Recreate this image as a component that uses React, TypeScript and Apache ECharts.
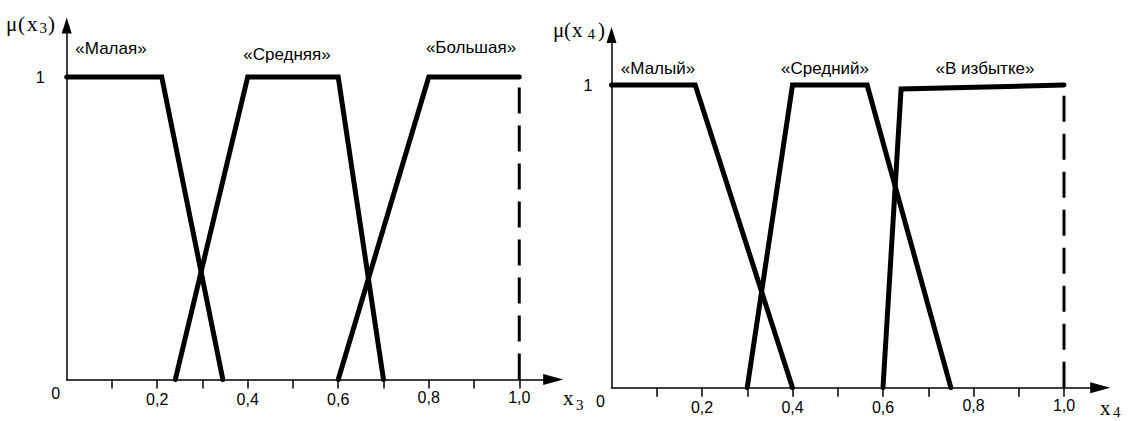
import React, { useEffect, useRef } from "react";
import * as echarts from "echarts";

// ---------- data ----------
// Left chart: membership functions of x3
const X3_SMALL: number[][] = [[0, 1], [0.21, 1], [0.345, 0]];
const X3_MEDIUM: number[][] = [[0.24, 0], [0.4, 1], [0.6, 1], [0.7, 0]];
const X3_LARGE: number[][] = [[0.6, 0], [0.8, 1], [1.0, 1]];
const X3_BOUND: number[][] = [[1.0, 0], [1.0, 1]];

// Right chart: membership functions of x4
const X4_SMALL: number[][] = [[0, 1], [0.185, 1], [0.4, 0]];
const X4_MEDIUM: number[][] = [[0.3, 0], [0.4, 1], [0.565, 1], [0.75, 0]];
const X4_EXCESS: number[][] = [[0.6, 0], [0.64, 0.987], [1.0, 1]];
const X4_BOUND: number[][] = [[1.0, 0], [1.0, 1]];

const X_TICKS = [0.1, 0.2, 0.3, 0.4, 0.5, 0.6, 0.7, 0.8, 0.9, 1.0];
const X_LABELS = [0, 0.2, 0.4, 0.6, 0.8, 1.0];
const Y_LABELS = [1];

const LEFT_TERMS = ["«Малая»", "«Средняя»", "«Большая»"];
const RIGHT_TERMS = ["«Малый»", "«Средний»", "«В избытке»"];

const SANS = '"Liberation Sans", Arial, sans-serif';
const SERIF = '"Liberation Serif", "Times New Roman", serif';

function fmtX(v: number): string {
  if (v === 0) return "{z|0}";
  const s = v.toFixed(1).replace(".", ",");
  return v < 0.7 ? `{a|${s}}` : `{b|${s}}`;
}

const labelRich = {
  z: { fontSize: 16, lineHeight: 16, fontFamily: SANS, color: "#000", padding: [4, 22, 0, 0] },
  a: { fontSize: 16, lineHeight: 16, fontFamily: SANS, color: "#000", padding: [15, 0, 0, 0] },
  b: { fontSize: 16, lineHeight: 16, fontFamily: SANS, color: "#000", padding: [11, 0, 0, 0] },
};

function xAxisFor(gridIndex: number, max: number) {
  return {
    type: "value",
    gridIndex,
    min: 0,
    max,
    axisLine: {
      show: true,
      onZero: false,
      symbol: ["none", "triangle"],
      symbolSize: [11, 20],
      lineStyle: { color: "#000", width: 1.5 },
    },
    axisTick: {
      show: true,
      customValues: X_TICKS,
      length: 9,
      lineStyle: { color: "#000", width: 1.5 },
    },
    axisLabel: {
      show: true,
      customValues: X_LABELS,
      margin: 4,
      formatter: fmtX,
      rich: labelRich,
    },
    splitLine: { show: false },
  };
}

function yAxisFor(gridIndex: number, max: number, margin: number) {
  return {
    type: "value",
    gridIndex,
    min: 0,
    max,
    axisLine: {
      show: true,
      onZero: false,
      symbol: ["none", "triangle"],
      symbolSize: [10, 16],
      lineStyle: { color: "#000", width: 1.5 },
    },
    axisTick: { show: false },
    axisLabel: {
      show: true,
      customValues: Y_LABELS,
      margin,
      fontSize: 16,
      fontFamily: SANS,
      color: "#000",
      formatter: (v: number) => String(v),
    },
    splitLine: { show: false },
  };
}

function thick(data: number[][], xi: number, name: string) {
  return {
    type: "line",
    name,
    xAxisIndex: xi,
    yAxisIndex: xi,
    data,
    showSymbol: false,
    symbol: "none",
    lineStyle: { color: "#000", width: 5, join: "miter", cap: "round" },
    z: 3,
  };
}

function dashed(data: number[][], xi: number) {
  return {
    type: "line",
    xAxisIndex: xi,
    yAxisIndex: xi,
    data,
    showSymbol: false,
    symbol: "none",
    lineStyle: { color: "#000", width: 3, type: [26, 12] },
    z: 2,
  };
}

function txt(text: string, x: number, y: number, font: string, align = "left") {
  return {
    type: "text",
    x,
    y,
    silent: true,
    style: { text, font, fill: "#000", align, verticalAlign: "middle" },
  };
}

export default function App() {
  const ref = useRef<HTMLDivElement>(null);

  useEffect(() => {
    if (!ref.current) return;
    const chart = echarts.init(ref.current, null, { renderer: "svg" });
    const fMain = `21px ${SERIF}`;
    const fSub = `15px ${SERIF}`;
    const fLab = `17px ${SANS}`;
    chart.setOption({
      animation: false,
      backgroundColor: "#fff",
      grid: [
        { left: 66.7, top: 25.6, width: 486.5, height: 353.9, outerBoundsMode: "none", containLabel: false },
        { left: 611.5, top: 35.1, width: 488.7, height: 352.6, outerBoundsMode: "none", containLabel: false },
      ],
      xAxis: [xAxisFor(0, 1.075), xAxisFor(1, 1.08)],
      yAxis: [yAxisFor(0, 1.17, 22), yAxisFor(1, 1.165, 19)],
      series: [
        thick(X3_SMALL, 0, LEFT_TERMS[0]),
        thick(X3_MEDIUM, 0, LEFT_TERMS[1]),
        thick(X3_LARGE, 0, LEFT_TERMS[2]),
        dashed(X3_BOUND, 0),
        thick(X4_SMALL, 1, RIGHT_TERMS[0]),
        thick(X4_MEDIUM, 1, RIGHT_TERMS[1]),
        thick(X4_EXCESS, 1, RIGHT_TERMS[2]),
        dashed(X4_BOUND, 1),
      ],
      graphic: [
        // μ(x3)
        txt("μ", 6, 24, fMain),
        txt("(", 18, 24, fMain),
        txt("x", 27, 24, fMain),
        txt("3", 39.5, 28, fSub),
        txt(")", 48, 24, fMain),
        // μ(x4)
        txt("μ", 553, 30, fMain),
        txt("(", 564, 30, fMain),
        txt("x", 572, 30, fMain),
        txt("4", 587.5, 34, fSub),
        txt(")", 598, 30, fMain),
        // x3 axis name
        txt("x", 563, 398, fMain),
        txt("3", 576, 405, fSub),
        // x4 axis name
        txt("x", 1100, 408, fMain),
        txt("4", 1113, 412, fSub),
        // term labels
        txt(LEFT_TERMS[0], 111, 48, fLab, "center"),
        txt(LEFT_TERMS[1], 287, 54, fLab, "center"),
        txt(LEFT_TERMS[2], 471, 47, fLab, "center"),
        txt(RIGHT_TERMS[0], 658, 68, fLab, "center"),
        txt(RIGHT_TERMS[1], 825, 68, fLab, "center"),
        txt(RIGHT_TERMS[2], 985, 68, fLab, "center"),
      ],
    });
    return () => chart.dispose();
  }, []);

  return (
    <div
      ref={ref}
      style={{ position: "fixed", left: 0, top: 0, width: 1129, height: 421, background: "#fff" }}
    />
  );
}
